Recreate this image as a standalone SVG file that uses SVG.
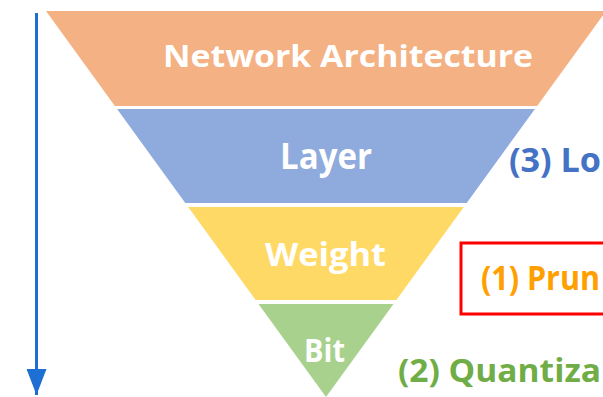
<svg xmlns="http://www.w3.org/2000/svg" width="603" height="397" viewBox="0 0 603 397">
  <style>
    .band-label { font-family: "Open Sans", "Liberation Sans", sans-serif; font-weight: 700; fill: #ffffff; text-anchor: middle; }
    .side-label { font-family: "Open Sans", "Liberation Sans", sans-serif; font-weight: 700; }
  </style>
  <defs>
    <marker id="arrowhead" viewBox="0 0 26 20" refX="26" refY="10" markerWidth="26" markerHeight="20" markerUnits="userSpaceOnUse" orient="auto">
      <path d="M0,0 L26,10 L0,20 Z" fill="#1E6FD4"/>
    </marker>
  </defs>
  <rect width="603" height="397" fill="#ffffff"/>

  <!-- granularity levels, coarse to fine -->
  <g id="network-architecture">
    <polygon points="46,11 606,11 537.1,106 114.9,106" fill="#F4B183"/>
    <text class="band-label" x="348" y="67" font-size="31" textLength="370" lengthAdjust="spacingAndGlyphs">Network Architecture</text>
  </g>
  <g id="layer">
    <polygon points="117.1,109 534.9,109 466.7,203 185.3,203" fill="#8FAADC"/>
    <text class="band-label" x="326" y="169" font-size="36" textLength="92" lengthAdjust="spacingAndGlyphs">Layer</text>
  </g>
  <g id="weight">
    <polygon points="188.2,207 463.8,207 396.4,300 255.6,300" fill="#FFD966"/>
    <text class="band-label" x="325.5" y="266" font-size="32" textLength="121" lengthAdjust="spacingAndGlyphs">Weight</text>
  </g>
  <g id="bit">
    <polygon points="258.5,304 393.5,304 326,397" fill="#A9D18E"/>
    <text class="band-label" x="324.5" y="362" font-size="33" textLength="41" lengthAdjust="spacingAndGlyphs">Bit</text>
  </g>

  <!-- method labels, running up to the right edge -->
  <g id="low-rank">
    <text class="side-label" x="509" y="172" font-size="34" fill="#4472C4" textLength="92" lengthAdjust="spacingAndGlyphs">(3) Lo</text>
  </g>
  <g id="pruning">
    <rect x="461" y="243" width="160" height="71" fill="none" stroke="#FF0000" stroke-width="3"/>
    <text class="side-label" x="481" y="290" font-size="34" fill="#FFA000" textLength="119" lengthAdjust="spacingAndGlyphs">(1) Prun</text>
  </g>
  <g id="quantization">
    <text class="side-label" x="398" y="382" font-size="33" fill="#70AD47" textLength="203" lengthAdjust="spacingAndGlyphs">(2) Quantiza</text>
  </g>

  <g id="connectors">
    <line x1="36.5" y1="13" x2="36.5" y2="395" stroke="#1E6FD4" stroke-width="3" marker-end="url(#arrowhead)"/>
  </g>
</svg>
